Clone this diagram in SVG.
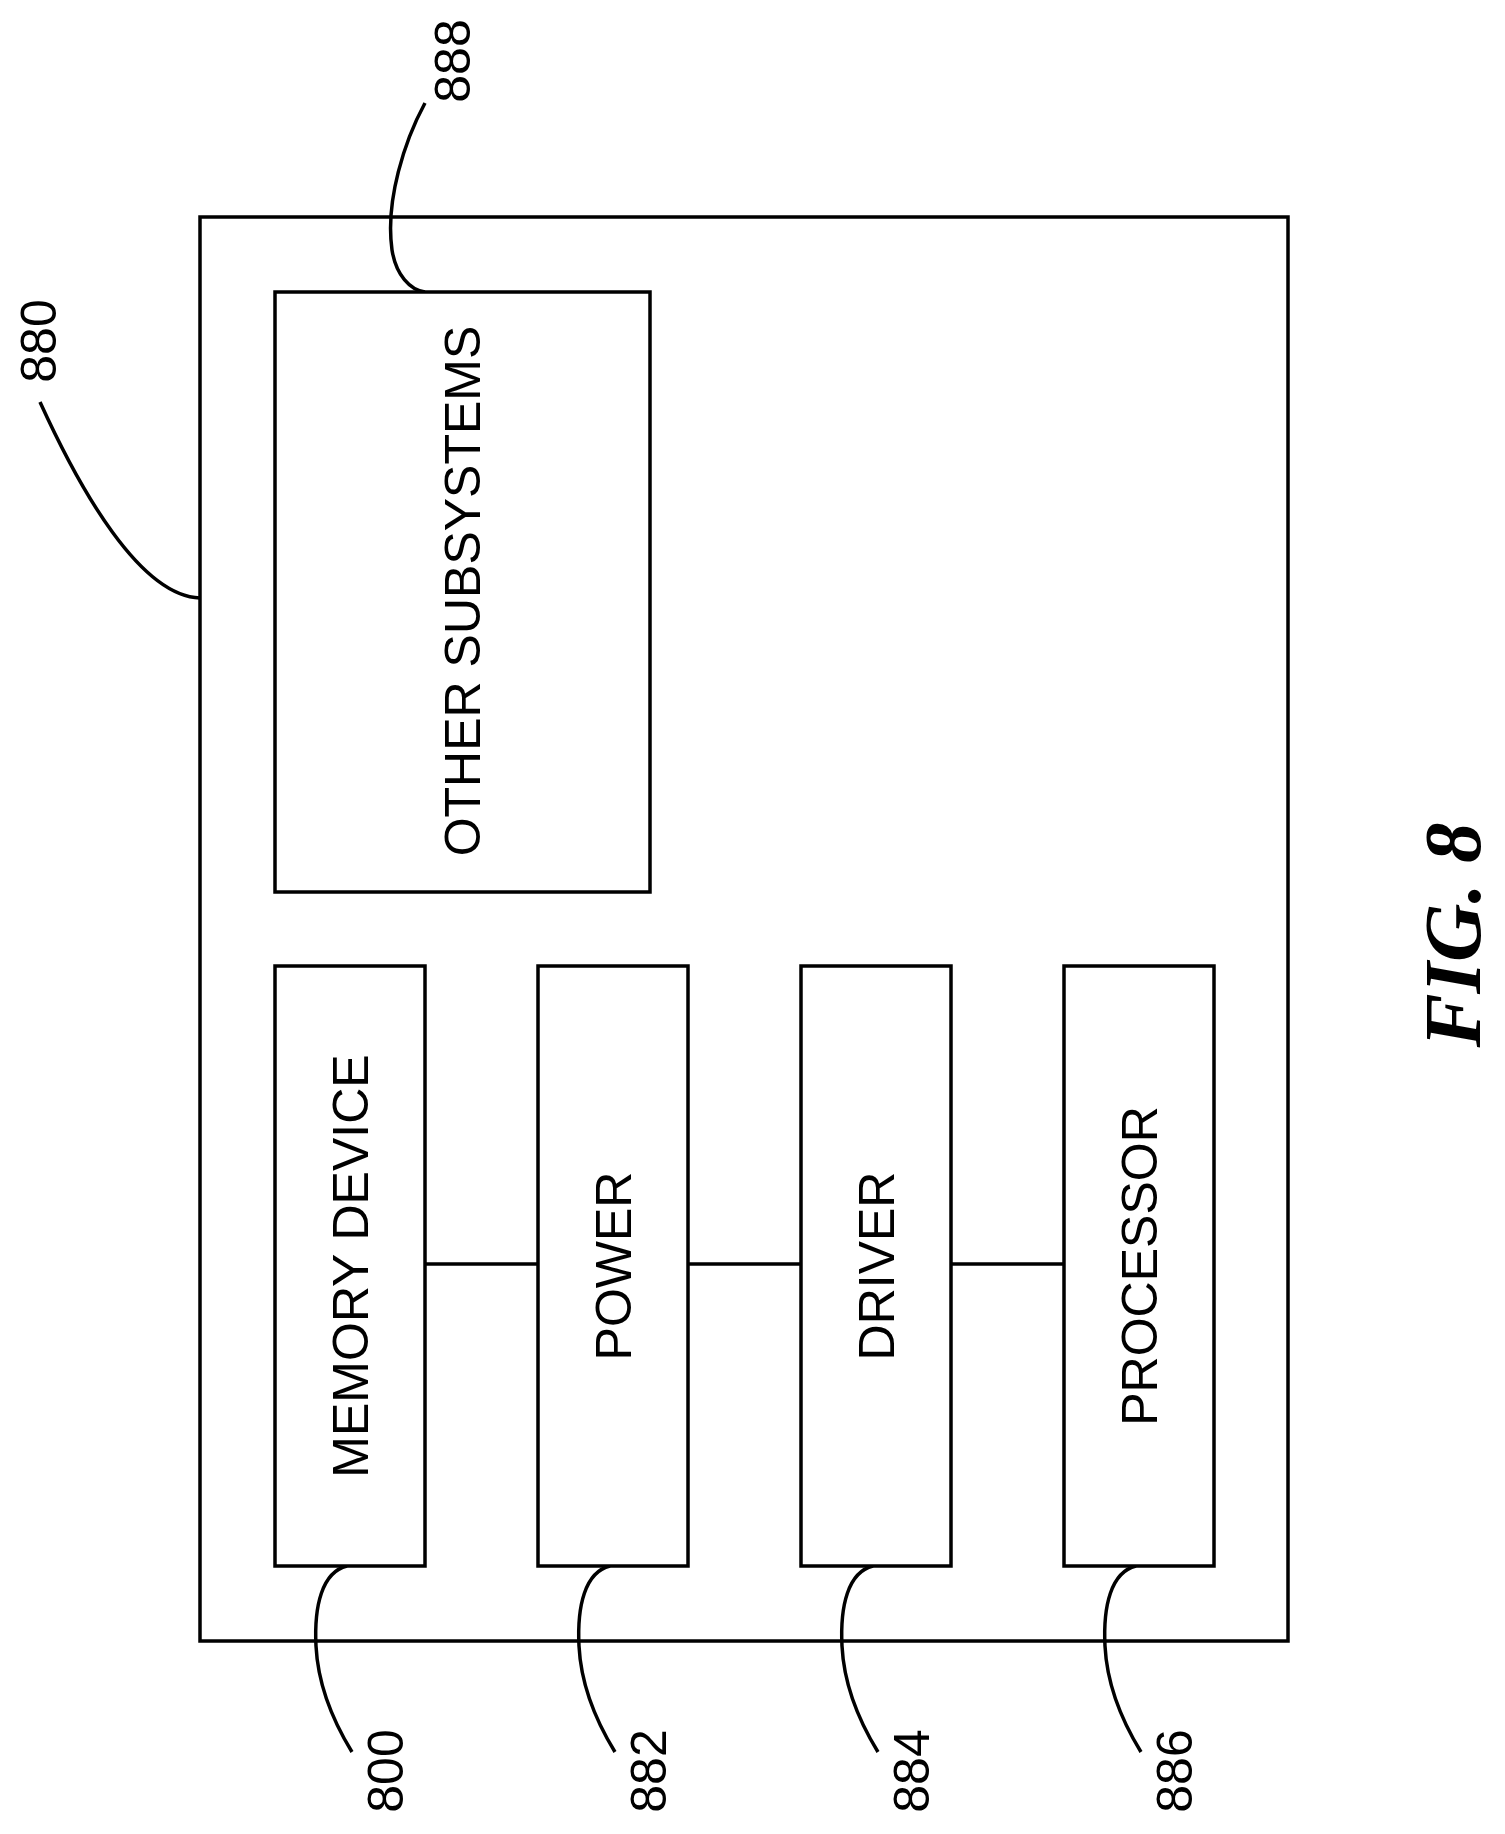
<svg xmlns="http://www.w3.org/2000/svg" width="1505" height="1834" viewBox="0 0 1505 1834">
<style>
.b{fill:#fff;stroke:#000;stroke-width:3.5}
.l{fill:none;stroke:#000;stroke-width:3.5}
.t{font-family:"Liberation Sans",Arial,sans-serif;font-size:50px;text-anchor:middle}
.f{font-family:"Liberation Serif","Times New Roman",serif;font-size:81px;font-weight:bold;font-style:italic;text-anchor:middle}
</style>
<rect width="1505" height="1834" fill="#fff"/>
<g id="n880"><rect class="b" x="200" y="217" width="1088" height="1424"/></g>
<g id="connectors">
<line class="l" x1="425" y1="1264" x2="538" y2="1264"/>
<line class="l" x1="688" y1="1264" x2="801" y2="1264"/>
<line class="l" x1="951" y1="1264" x2="1064" y2="1264"/>
<path class="l" d="M40,402 C80,490 140,596 200,598"/>
<path class="l" d="M425,103 C405,140 385,200 392,250 C396,275 410,290 425,292"/>
<path class="l" d="M347,1566 C322,1572 314,1606 316,1646 C318,1686 333,1721 352,1752"/>
<path class="l" d="M610,1566 C585,1572 577,1606 579,1646 C581,1686 596,1721 615,1752"/>
<path class="l" d="M873,1566 C848,1572 840,1606 842,1646 C844,1686 859,1721 878,1752"/>
<path class="l" d="M1136,1566 C1111,1572 1103,1606 1105,1646 C1107,1686 1122,1721 1141,1752"/>
</g>
<g id="n888"><rect class="b" x="275" y="292" width="375" height="600"/><text class="t" transform="translate(480,591) rotate(-90)">OTHER SUBSYSTEMS</text></g>
<g id="n800"><rect class="b" x="275" y="966" width="150" height="600"/><text class="t" transform="translate(368,1266) rotate(-90)">MEMORY DEVICE</text></g>
<g id="n882"><rect class="b" x="538" y="966" width="150" height="600"/><text class="t" transform="translate(631,1266) rotate(-90)">POWER</text></g>
<g id="n884"><rect class="b" x="801" y="966" width="150" height="600"/><text class="t" transform="translate(894,1266) rotate(-90)">DRIVER</text></g>
<g id="n886"><rect class="b" x="1064" y="966" width="150" height="600"/><text class="t" transform="translate(1157,1266) rotate(-90)">PROCESSOR</text></g>
<g id="labels">
<text class="t" transform="translate(56,341) rotate(-90)">880</text>
<text class="t" transform="translate(470,61) rotate(-90)">888</text>
<text class="t" transform="translate(403,1771) rotate(-90)">800</text>
<text class="t" transform="translate(666,1771) rotate(-90)">882</text>
<text class="t" transform="translate(929,1771) rotate(-90)">884</text>
<text class="t" transform="translate(1192,1771) rotate(-90)">886</text>
<text class="f" transform="translate(1480,935) rotate(-90)">FIG. 8</text>
</g>
</svg>
